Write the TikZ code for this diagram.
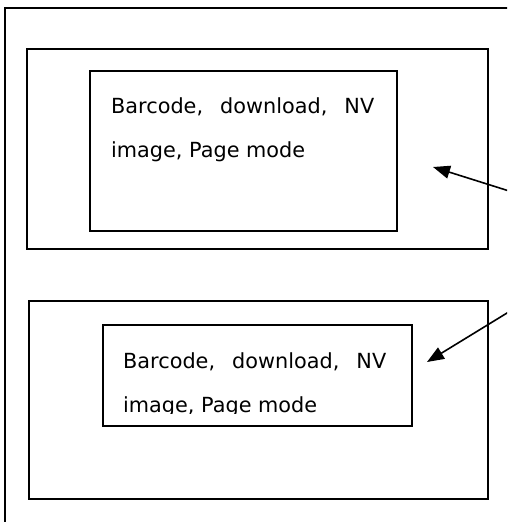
\documentclass[tikz,border=0pt]{standalone}
\usepackage{fontspec}
\setmainfont{DejaVu Sans}
\usetikzlibrary{arrows.meta}
\newcommand{\nohyph}{\hyphenpenalty=10000\relax}

\begin{document}
\begin{tikzpicture}[x=1pt,y=-1pt,
 box/.style={draw,line width=1.5pt,inner sep=0pt,outer sep=0pt,anchor=north west},
 txt/.style={anchor=base west,inner sep=0pt,text width=263pt,align=justify,font=\fontsize{20.8}{44}\selectfont\nohyph},
 a/.style={-{Triangle[length=17pt,width=13pt]},line width=1.6pt}]
\useasboundingbox (0,0) rectangle (507,522);
\clip (0,0) rectangle (507,522);

\node[box,minimum width=525pt,minimum height=540pt] (page) at (5,8) {};

\node[box,minimum width=461pt,minimum height=200pt] (slotA) at (27,49) {};
\node[box,minimum width=307pt,minimum height=160pt] (cardA) at (90,71) {};
\node[txt] (textA) at (111,113) {Barcode, download, NV image, Page mode};

\node[box,minimum width=459pt,minimum height=198pt] (slotB) at (29,301) {};
\node[box,minimum width=309pt,minimum height=101pt] (cardB) at (103,325) {};
\begin{scope}
\clip (cardB.north west) rectangle ([yshift=13pt]cardB.south east);
\node[txt] (textB) at (123,368) {Barcode, download, NV image, Page mode};
\end{scope}

\coordinate (srcA) at (525,196);
\coordinate (tipA) at (433,167);
\coordinate (srcB) at (525,302);
\coordinate (tipB) at (427,362);
\draw[a] (srcA) -- (tipA);
\draw[a] (srcB) -- (tipB);
\end{tikzpicture}
\end{document}
